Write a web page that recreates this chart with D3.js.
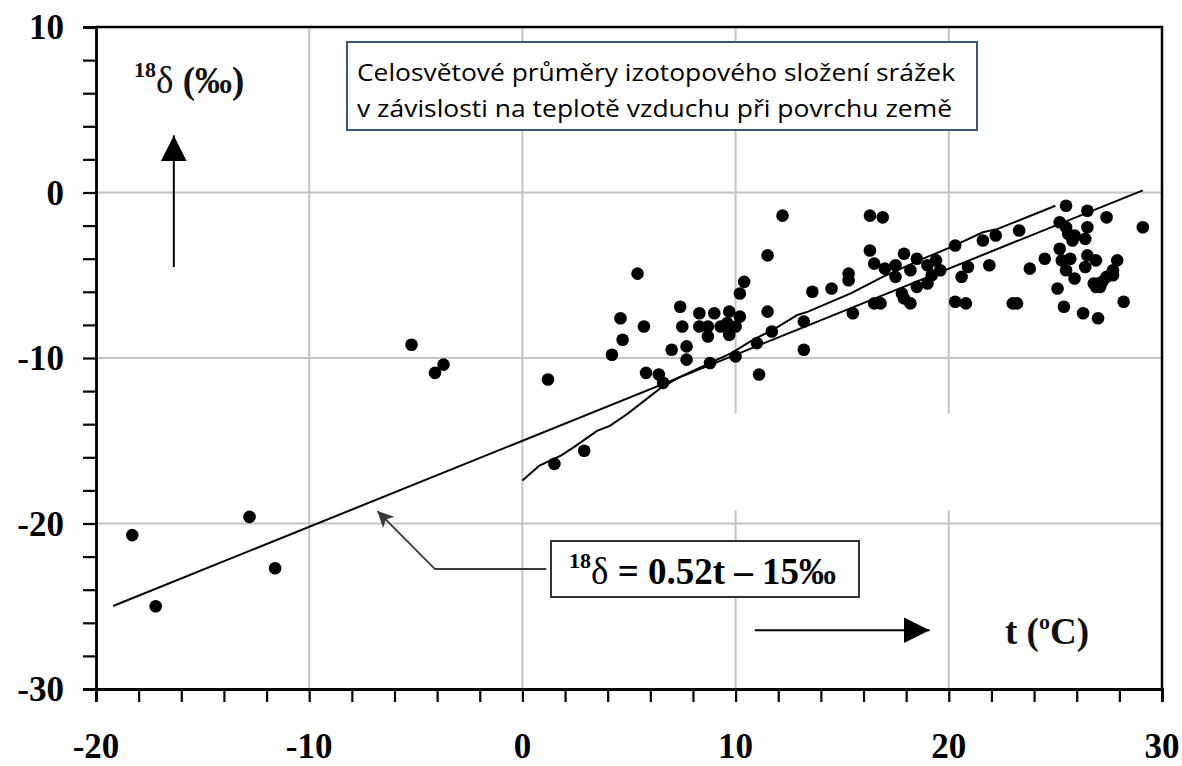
<!DOCTYPE html>
<html>
<head>
<meta charset="utf-8">
<script src="https://cdn.jsdelivr.net/npm/d3@7"></script>
<style>
  html, body { margin: 0; padding: 0; background: #fff; }
  svg { display: block; }
</style>
</head>
<body>
<svg id="chart" width="1182" height="766"></svg>
<script>
// Mean air temperature at the surface (°C) for each station
const tempC = [
  -18.3, -17.2, -12.8, -11.6, -5.2, -3.7, -4.1, 1.2, 1.5, 2.9,
  4.2, 4.6, 4.7, 5.4, 5.7, 5.8, 6.4, 6.6, 7.0, 7.4,
  7.5, 7.7, 7.7, 8.3, 8.3, 8.7, 8.7, 9.0, 8.8, 9.3,
  9.6, 9.7, 9.7, 10.0, 10.2, 10.2, 10.4, 10.0, 11.0, 11.1,
  11.5, 11.5, 11.7, 12.2, 13.2, 13.2, 13.6, 14.5, 15.3, 15.3,
  15.5, 16.3, 16.9, 16.3, 16.5, 16.5, 16.8, 17.0, 17.5, 17.5,
  17.9, 17.8, 17.9, 18.2, 18.2, 18.5, 18.5, 19.0, 19.4, 19.2,
  19.0, 19.6, 20.3, 20.3, 20.8, 20.6, 20.9, 21.6, 21.9, 22.2,
  23.0, 23.2, 23.3, 23.8, 24.5, 25.1, 25.5, 25.2, 25.5, 25.6,
  25.8, 25.9, 26.4, 26.5, 26.5, 27.4, 29.1, 25.2, 25.3, 25.7,
  25.5, 26.5, 26.9, 26.4, 25.9, 27.9, 27.7, 27.7, 27.4, 27.2,
  27.0, 26.8, 27.1, 26.9, 25.4, 26.3, 27.0, 28.2
];
// Mean 18δ of precipitation (‰) for the same stations
const delta18O = [
  -20.7, -25.0, -19.6, -22.7, -9.2, -10.4, -10.9, -11.3, -16.4, -15.6,
  -9.8, -7.6, -8.9, -4.9, -8.1, -10.9, -11.0, -11.5, -9.5, -6.9,
  -8.1, -9.3, -10.1, -7.3, -8.1, -8.1, -8.7, -7.3, -10.3, -8.1,
  -7.9, -7.2, -8.6, -8.1, -7.5, -6.1, -5.4, -9.9, -9.1, -11.0,
  -3.8, -7.2, -8.4, -1.4, -7.8, -9.5, -6.0, -5.8, -4.9, -5.3,
  -7.3, -1.4, -1.5, -3.5, -4.3, -6.7, -6.7, -4.6, -4.4, -5.1,
  -3.7, -6.1, -6.4, -4.7, -6.7, -4.0, -5.7, -4.4, -4.1, -5.0,
  -5.5, -4.7, -3.2, -6.6, -6.7, -5.1, -4.5, -2.9, -4.4, -2.6,
  -6.7, -6.7, -2.3, -4.6, -4.0, -5.8, -0.8, -1.8, -2.1, -2.5,
  -2.9, -2.6, -2.8, -1.1, -2.1, -1.5, -2.1, -3.4, -4.1, -4.0,
  -4.7, -3.8, -4.1, -4.5, -5.2, -4.1, -4.7, -5.0, -5.1, -5.4,
  -5.5, -5.5, -5.7, -5.7, -6.9, -7.3, -7.6, -6.6
];

// Linear fit 18δ = 0.52 t − 15 ‰, drawn across the temperature span
const fitSlope = 0.52;
const fitIntercept = -15;
const fitRange = [-19.2, 29.1];

// Empirical curve for the warmer stations
const curveT = [0.0, 0.8, 1.8, 2.4, 3.5, 4.1, 4.9, 5.8, 6.5, 7.3, 8.3, 9.8, 10.7, 12.0, 12.9, 13.4, 15.4, 16.9, 18.8, 20.1, 21.6, 22.3, 25.0];
const curveD = [-17.4, -16.5, -15.9, -15.4, -14.4, -14.1, -13.4, -12.5, -11.8, -11.2, -10.6, -9.7, -9.0, -8.1, -7.4, -7.2, -6.1, -5.1, -4.0, -3.3, -2.4, -2.2, -0.8];

// Axis ticks
const xTickLabels = [-20, -10, 0, 10, 20, 30];
const yTickLabels = [-30, -20, -10, 0, 10];
const xMinorTicks = d3.range(-20, 31, 2);
const yMinorTicks = d3.range(-30, 11, 2);
const xGrid = [-10, 0, 10, 20];
const yGrid = [-20, -10, 0];

const svg = d3.select("#chart");
const margin = { left: 96, right: 20, top: 27, bottom: 77 };
const W = 1182, H = 766;

const x = d3.scaleLinear().domain([-20, 30]).range([margin.left, W - margin.right]);
const y = d3.scaleLinear().domain([-30, 10]).range([H - margin.bottom, margin.top]);

const serif = "'Liberation Serif', 'Times New Roman', serif";

// Gridlines (the verticals at 10 and 20 leave an opening around the equation box)
const grid = svg.append("g").attr("stroke", "#c4c4c4").attr("stroke-width", 2);
xGrid.forEach(v => {
  if (v >= 10) {
    grid.append("line").attr("x1", x(v)).attr("x2", x(v)).attr("y1", y(10)).attr("y2", y(-13.35));
    grid.append("line").attr("x1", x(v)).attr("x2", x(v)).attr("y1", y(-19.2)).attr("y2", y(-30));
  } else {
    grid.append("line").attr("x1", x(v)).attr("x2", x(v)).attr("y1", y(10)).attr("y2", y(-30));
  }
});
yGrid.forEach(v => {
  grid.append("line").attr("x1", x(-20)).attr("x2", x(30)).attr("y1", y(v)).attr("y2", y(v));
});

// Frame (top and right)
svg.append("path")
  .attr("d", `M${x(-20)},${y(10)}H${x(30)}V${y(-30)}`)
  .attr("fill", "none").attr("stroke", "#000").attr("stroke-width", 2.5);

// Axes with minor ticks every 2 units
const xAxis = svg.append("g").attr("transform", `translate(0,${y(-30)})`)
  .call(d3.axisBottom(x).tickValues(xMinorTicks).tickSize(13).tickFormat(""));
const yAxis = svg.append("g").attr("transform", `translate(${x(-20)},0)`)
  .call(d3.axisLeft(y).tickValues(yMinorTicks).tickSize(13).tickFormat(""));
[xAxis, yAxis].forEach(g => {
  g.select(".domain").attr("stroke", "#000").attr("stroke-width", 2.8);
  g.selectAll(".tick line").attr("stroke", "#000").attr("stroke-width", 2.2);
});

// Tick labels
svg.append("g").selectAll("text").data(xTickLabels).join("text")
  .attr("x", d => x(d)).attr("y", 758)
  .attr("text-anchor", "middle")
  .attr("font-family", serif).attr("font-weight", "bold").attr("font-size", 35)
  .text(d => d);
svg.append("g").selectAll("text").data(yTickLabels).join("text")
  .attr("x", 64).attr("y", d => y(d) + 12)
  .attr("text-anchor", "end")
  .attr("font-family", serif).attr("font-weight", "bold").attr("font-size", 35)
  .text(d => d);

// Linear fit
const fitLine = d3.line().x(d => x(d)).y(d => y(fitSlope * d + fitIntercept));
svg.append("path").datum(fitRange).attr("d", fitLine)
  .attr("fill", "none").attr("stroke", "#000").attr("stroke-width", 2);

// Empirical curve
const curve = d3.line().x((d, i) => x(curveT[i])).y(d => y(d));
svg.append("path").datum(curveD).attr("d", curve)
  .attr("fill", "none").attr("stroke", "#000").attr("stroke-width", 2);

// Station points
svg.append("g").selectAll("circle").data(tempC).join("circle")
  .attr("cx", d => x(d)).attr("cy", (d, i) => y(delta18O[i]))
  .attr("r", 6.3).attr("fill", "#000");

// Arrowheads
const defs = svg.append("defs");
defs.append("marker").attr("id", "head").attr("viewBox", "0 0 10 10")
  .attr("refX", 10).attr("refY", 5).attr("markerUnits", "userSpaceOnUse")
  .attr("markerWidth", 26).attr("markerHeight", 28).attr("orient", "auto")
  .append("path").attr("d", "M0,0L10,5L0,10Z").attr("fill", "#000");
defs.append("marker").attr("id", "headGrey").attr("viewBox", "0 0 10 10")
  .attr("refX", 10).attr("refY", 5).attr("markerUnits", "userSpaceOnUse")
  .attr("markerWidth", 22).attr("markerHeight", 16).attr("orient", "auto")
  .append("path").attr("d", "M0,0L10,5L0,10L2.5,5Z").attr("fill", "#3a3a3a");

// Vertical arrow under the y label
svg.append("line")
  .attr("x1", x(-16.35)).attr("x2", x(-16.35)).attr("y1", y(-4.5)).attr("y2", y(3.45))
  .attr("stroke", "#000").attr("stroke-width", 2).attr("marker-end", "url(#head)");

// Horizontal arrow before the x label
svg.append("line")
  .attr("x1", x(10.9)).attr("x2", x(19.1)).attr("y1", y(-26.45)).attr("y2", y(-26.45))
  .attr("stroke", "#000").attr("stroke-width", 2).attr("marker-end", "url(#head)");

// Axis labels
const yLab = svg.append("text").attr("x", 134).attr("y", 93)
  .attr("font-family", serif).attr("font-size", 37).attr("fill", "#111");
yLab.append("tspan").attr("font-size", 22).attr("font-weight", "bold").attr("dy", -16).text("18");
yLab.append("tspan").attr("dy", 16).text("δ");
yLab.append("tspan").attr("font-weight", "bold").text(" (‰)");

const xLab = svg.append("text").attr("x", 1005).attr("y", 644)
  .attr("font-family", serif).attr("font-size", 37).attr("font-weight", "bold").attr("fill", "#111");
xLab.append("tspan").text("t (");
xLab.append("tspan").attr("font-size", 22).attr("dy", -15).text("o");
xLab.append("tspan").attr("dy", 15).text("C)");

// Title box
svg.append("rect").attr("x", 347).attr("y", 42).attr("width", 630).attr("height", 88)
  .attr("fill", "#fff").attr("stroke", "#3d5674").attr("stroke-width", 2);
const titleLines = [
  "Celosvětové průměry izotopového složení srážek",
  "v závislosti na teplotě vzduchu při povrchu země"
];
svg.append("g").selectAll("text").data(titleLines).join("text")
  .attr("x", 357).attr("y", (d, i) => 81 + i * 36)
  .attr("font-family", "'Open Sans', 'Noto Sans', sans-serif").attr("font-size", 24.5)
  .attr("textLength", (d, i) => i === 0 ? 598 : 595).attr("lengthAdjust", "spacingAndGlyphs")
  .attr("fill", "#000")
  .text(d => d);

// Callout leader from the fit line to the equation box
svg.append("path")
  .attr("d", `M${x(1.12)},${y(-22.75)}H${x(-4.1)}L${x(-6.8)},${y(-19.25)}`)
  .attr("fill", "none").attr("stroke", "#3a3a3a").attr("stroke-width", 1.8)
  .attr("marker-end", "url(#headGrey)");

// Equation box
svg.append("rect").attr("x", 551).attr("y", 541).attr("width", 308).attr("height", 56)
  .attr("fill", "#fff").attr("stroke", "#333").attr("stroke-width", 2);
const eq = svg.append("text").attr("x", 569).attr("y", 584)
  .attr("font-family", serif).attr("font-size", 37).attr("fill", "#000");
eq.append("tspan").attr("font-size", 22).attr("font-weight", "bold").attr("dy", -16).text("18");
eq.append("tspan").attr("dy", 16).text("δ");
eq.append("tspan").attr("font-weight", "bold").text(" = 0.52t – 15‰");
</script>
</body>
</html>
